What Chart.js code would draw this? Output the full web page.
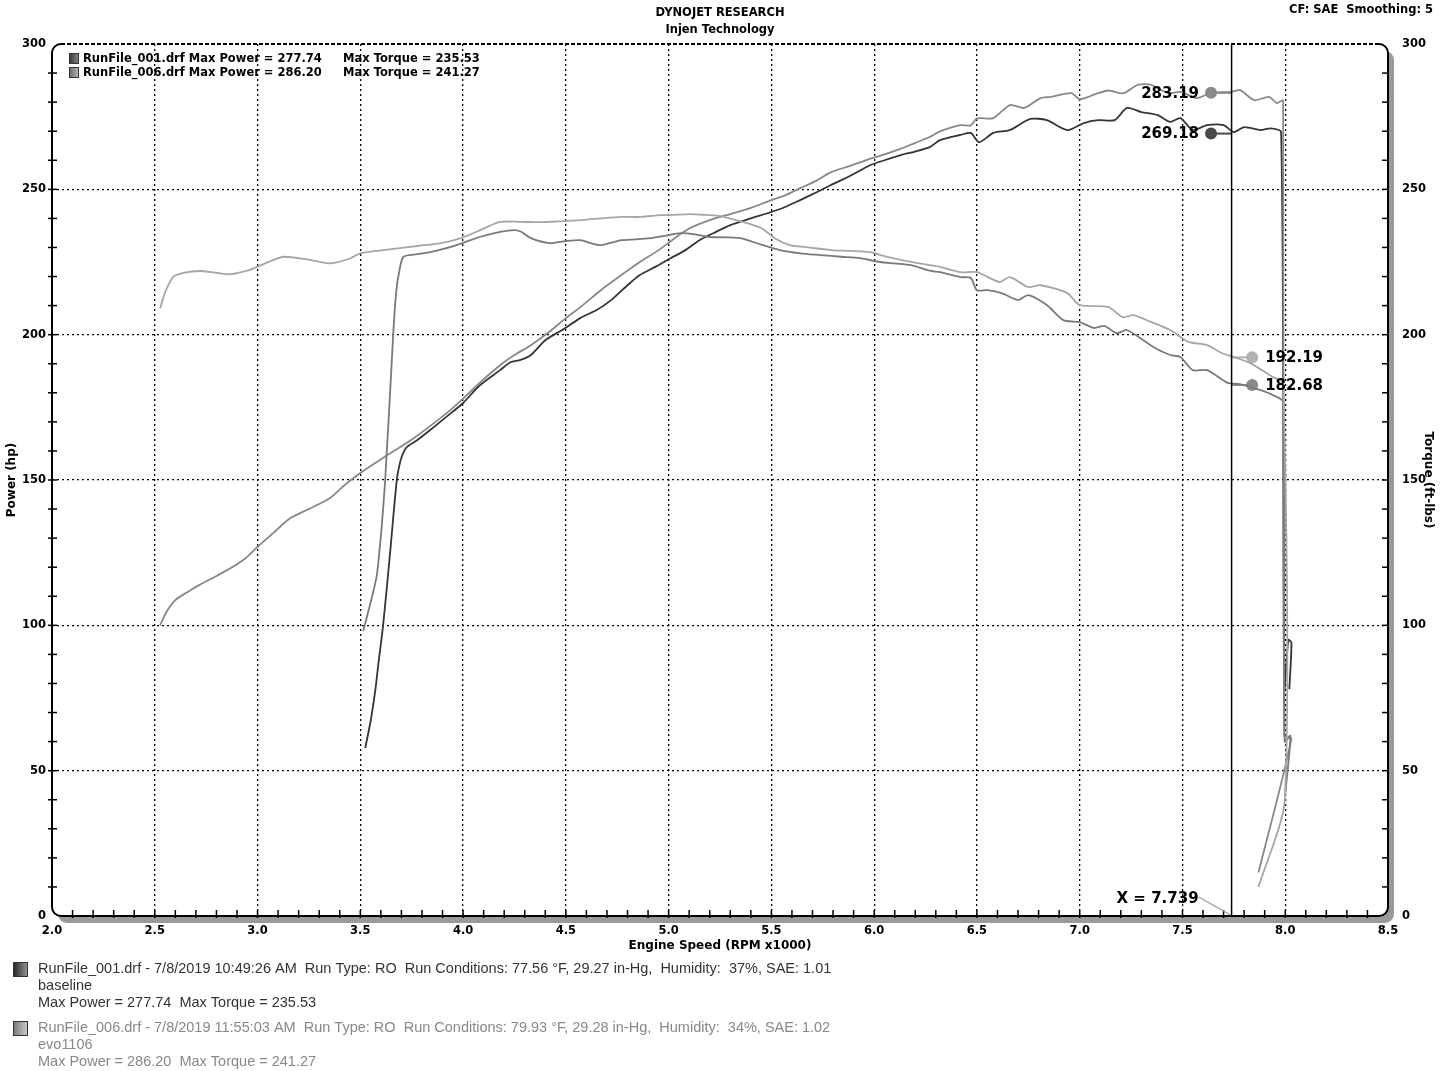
<!DOCTYPE html>
<html><head><meta charset="utf-8">
<script src="https://cdn.jsdelivr.net/npm/chart.js@4/dist/chart.umd.min.js"></script>
<style>html,body{margin:0;padding:0;background:#fff}</style>
</head><body>
<canvas id="c" width="1445" height="1071"></canvas>
<script>
// ---- data (rpm x1000, value) ----
const power001 = [[3.524,57.8],[3.55,67],[3.573,77.7],[3.59,88],[3.611,100],[3.645,125],[3.678,150.3],[3.695,156.5],[3.71,159.5],[3.727,161.4],[3.776,163.7],[3.84,167.2],[3.92,171.8],[4.0,176.5],[4.08,182.5],[4.18,187.8],[4.23,190.5],[4.28,191.3],[4.33,193],[4.4,198.1],[4.48,201.5],[4.57,205.7],[4.65,208.5],[4.72,211.9],[4.8,217],[4.86,220.5],[4.94,223.5],[5.01,226.3],[5.08,229],[5.15,232.5],[5.22,235],[5.3,237.7],[5.4,240],[5.5,242.2],[5.57,244],[5.64,246.3],[5.72,249],[5.79,251.5],[5.88,254.5],[5.98,258.3],[6.05,260],[6.13,261.8],[6.2,263],[6.27,264.5],[6.32,266.9],[6.42,268.7],[6.47,269.4],[6.51,266.2],[6.58,269.4],[6.66,270.4],[6.76,274.2],[6.84,273.8],[6.94,270.4],[7.02,272.8],[7.09,273.8],[7.17,273.8],[7.23,278],[7.3,276.6],[7.38,275.5],[7.44,273.2],[7.49,274.5],[7.55,270.4],[7.62,272.1],[7.7,272.1],[7.75,269.7],[7.8,271.4],[7.88,270.4],[7.93,271],[7.98,269.7],[7.995,78],[8.015,95],[8.03,94],[8.02,78]];
const power006 = [[2.526,100],[2.56,105],[2.6,108.7],[2.66,111.5],[2.72,114],[2.8,117],[2.87,119.7],[2.94,123],[3.0,127],[3.08,132],[3.16,136.9],[3.25,140],[3.353,143.8],[3.42,148],[3.5,152.4],[3.61,157.6],[3.76,164.4],[3.92,173],[4.0,178],[4.08,183.4],[4.18,189.5],[4.25,193],[4.33,196.4],[4.42,201],[4.5,205.7],[4.58,210],[4.67,215.3],[4.76,220],[4.86,225],[4.95,229],[5.03,233.2],[5.1,236.5],[5.2,239.4],[5.3,241.5],[5.4,243.6],[5.5,246.3],[5.57,248],[5.64,250.4],[5.72,253],[5.79,255.9],[5.88,258],[5.98,260.5],[6.05,262],[6.13,264],[6.2,266],[6.27,268],[6.323,270],[6.42,272.1],[6.47,272],[6.5,274.4],[6.58,274.5],[6.66,279],[6.73,278],[6.81,281.4],[6.86,281.8],[6.96,283.1],[7.0,281],[7.09,283.1],[7.14,284],[7.21,283],[7.28,285.9],[7.32,286.2],[7.35,285.9],[7.43,283.1],[7.49,283.5],[7.57,281.4],[7.64,283.2],[7.735,283.5],[7.78,284.1],[7.85,280.7],[7.92,281.8],[7.96,279.7],[7.99,280.5],[7.995,62],[8.03,61],[7.87,15]];
const torque001 = [[3.514,98],[3.553,108.7],[3.582,118],[3.621,150],[3.66,200],[3.675,215],[3.69,222],[3.71,226.8],[3.776,227.7],[3.84,228.4],[3.9,229.4],[4.0,231.6],[4.08,233.6],[4.18,235.4],[4.25,236],[4.28,235.5],[4.33,233.2],[4.42,231.5],[4.5,232.2],[4.57,232.5],[4.62,231.5],[4.67,230.8],[4.77,232.5],[4.84,232.8],[4.91,233.2],[4.98,234],[5.06,234.9],[5.13,234.5],[5.2,233.6],[5.28,233.5],[5.35,233.2],[5.45,231],[5.54,229.1],[5.64,228],[5.74,227.4],[5.84,226.8],[5.93,226.3],[6.03,225],[6.1,224.5],[6.18,223.9],[6.27,222],[6.32,221.5],[6.42,219.8],[6.47,219.5],[6.5,215.3],[6.55,215.3],[6.62,214.3],[6.7,211.9],[6.75,213.6],[6.84,210.2],[6.92,205],[7.0,204.3],[7.07,202.3],[7.12,203],[7.18,200.5],[7.23,201.6],[7.36,195.7],[7.44,193],[7.49,192.3],[7.55,187.8],[7.62,187.8],[7.72,183.4],[7.78,183],[7.88,180.9],[7.94,179.2],[7.99,176.8],[7.997,60],[8.025,62],[8.0,42]];
const torque006 = [[2.526,209],[2.55,214.5],[2.59,219.9],[2.64,221.3],[2.72,221.9],[2.8,221.3],[2.87,220.8],[2.96,222.2],[3.0,223.4],[3.07,225.5],[3.13,226.8],[3.24,225.9],[3.35,224.5],[3.45,226.2],[3.5,228],[3.65,229.4],[3.776,230.5],[3.9,231.6],[4.0,233.5],[4.1,236.5],[4.18,238.8],[4.28,238.8],[4.38,238.7],[4.47,239],[4.57,239.4],[4.67,240],[4.77,240.5],[4.86,240.5],[4.96,241.1],[5.05,241.3],[5.11,241.5],[5.18,241.2],[5.25,240.8],[5.35,239],[5.45,236.7],[5.52,233],[5.59,230.8],[5.68,230],[5.79,229.1],[5.88,228.8],[5.98,228.4],[6.05,227],[6.13,225.7],[6.22,224.5],[6.32,223.3],[6.42,221.5],[6.5,221.5],[6.61,218.1],[6.66,219.8],[6.75,216.4],[6.81,217],[6.94,214.3],[7.0,210.2],[7.14,209.5],[7.21,206],[7.26,206.7],[7.35,204.3],[7.44,201.6],[7.53,197.5],[7.62,196.4],[7.69,193.7],[7.75,192.3],[7.83,190.2],[7.94,185.4],[7.99,183.4],[7.998,40],[7.87,10]];
const cursorX = 7.739;
const cursorPower = [283.19, 269.18];   // 006, 001
const cursorTorque = [192.19, 182.68];  // 006, 001
const xTicks = [2.0,2.5,3.0,3.5,4.0,4.5,5.0,5.5,6.0,6.5,7.0,7.5,8.0,8.5];
const yTicks = [0,50,100,150,200,250,300];
const legendLines = ['RunFile_001.drf Max Power = 277.74','RunFile_006.drf Max Power = 286.20'];
const legendTorque = ['Max Torque = 235.53','Max Torque = 241.27'];
const infoBlocks = [
  ['RunFile_001.drf - 7/8/2019 10:49:26 AM  Run Type: RO  Run Conditions: 77.56 °F, 29.27 in-Hg,  Humidity:  37%, SAE: 1.01','baseline','Max Power = 277.74  Max Torque = 235.53'],
  ['RunFile_006.drf - 7/8/2019 11:55:03 AM  Run Type: RO  Run Conditions: 79.93 °F, 29.28 in-Hg,  Humidity:  34%, SAE: 1.02','evo1106','Max Power = 286.20  Max Torque = 241.27']
];

const C = {p001:'#353535', p006:'#888888', t001:'#7a7a7a', t006:'#a6a6a6'};
const pts = a => a.map(([x,y]) => ({x,y}));
const FONT = '"DejaVu Sans", Verdana, sans-serif';
Chart.defaults.font.family = FONT;

function curve(label, arr, color, axis) {
  return {label, data: pts(arr), showLine:true, borderColor:color, backgroundColor:color,
    borderWidth:1.8, pointRadius:0, tension:0.25, yAxisID:axis};
}
function marker(v, dx, color, axis) {
  return {data:[{x:cursorX,y:v},{x:cursorX+dx,y:v}], showLine:true, borderColor:color,
    backgroundColor:color, borderWidth:2, pointRadius:[0,6], pointBackgroundColor:color,
    pointBorderWidth:0, tension:0, yAxisID:axis};
}

function rr(ctx,x,y,w,h,r){ctx.beginPath();ctx.moveTo(x+r,y);ctx.arcTo(x+w,y,x+w,y+h,r);ctx.arcTo(x+w,y+h,x,y+h,r);ctx.arcTo(x,y+h,x,y,r);ctx.arcTo(x,y,x+w,y,r);ctx.closePath();}
function swatch(ctx,x,y,w,h,c1,c2){const g=ctx.createLinearGradient(x,0,x+w,0);g.addColorStop(0,c1);g.addColorStop(1,c2);ctx.fillStyle=g;ctx.fillRect(x,y,w,h);ctx.strokeStyle='#333';ctx.lineWidth=1;ctx.strokeRect(x+0.5,y+0.5,w-1,h-1);}

const deco = {
  id:'deco',
  beforeDraw(chart){
    const {ctx, chartArea:{left:L,top:T,right:R,bottom:B}} = chart;
    ctx.save();
    rr(ctx,L+6,T+7,R-L,B-T,9); ctx.fillStyle='#9a9a9a'; ctx.fill();
    rr(ctx,L,T,R-L,B-T,9); ctx.fillStyle='#fff'; ctx.fill();
    ctx.restore();
  },
  afterDraw(chart){
    const {ctx, chartArea:{left:L,top:T,right:R,bottom:B}, scales:{x, y}} = chart;
    ctx.save();
    const r = 9;
    ctx.strokeStyle='#000'; ctx.lineWidth=2;
    ctx.beginPath(); ctx.moveTo(L+r,T); ctx.arcTo(L,T,L,T+r,r); ctx.lineTo(L,B-r); ctx.arcTo(L,B,L+r,B,r);
    ctx.lineTo(R-r,B); ctx.arcTo(R,B,R,B-r,r); ctx.lineTo(R,T+r); ctx.arcTo(R,T,R-r,T,r); ctx.stroke();
    ctx.setLineDash([4,2]); ctx.beginPath(); ctx.moveTo(L+r,T); ctx.lineTo(R-r,T); ctx.stroke(); ctx.setLineDash([]);
    ctx.lineWidth=1.5;
    for (let i=1;i<65;i++){ const px = x.getPixelForValue(2+i*0.1); ctx.beginPath(); ctx.moveTo(px,B-6); ctx.lineTo(px,B+2); ctx.stroke(); }
    for (let v=10; v<300; v+=10){ const py=y.getPixelForValue(v);
      ctx.beginPath(); ctx.moveTo(L-4,py); ctx.lineTo(L+5,py); ctx.stroke();
      ctx.beginPath(); ctx.moveTo(R-6,py); ctx.lineTo(R+1,py); ctx.stroke(); }
    const cx = x.getPixelForValue(cursorX);
    ctx.lineWidth=1.5; ctx.beginPath(); ctx.moveTo(cx,T); ctx.lineTo(cx,B); ctx.stroke();
    ctx.strokeStyle='#999'; ctx.lineWidth=1.2; ctx.beginPath(); ctx.moveTo(cx-33,B-19); ctx.lineTo(cx-1,B-1); ctx.stroke();
    ctx.fillStyle='#000'; ctx.font='bold 15px '+FONT; ctx.textBaseline='middle';
    ctx.textAlign='right'; ctx.fillText('X = '+cursorX.toFixed(3), cx-33, B-17);
    const pxL = x.getPixelForValue(cursorX-0.1), pxR = x.getPixelForValue(cursorX+0.1);
    cursorPower.forEach(v=>{ ctx.textAlign='right'; ctx.fillText(v.toFixed(2), pxL-12, y.getPixelForValue(v)+1); });
    cursorTorque.forEach(v=>{ ctx.textAlign='left'; ctx.fillText(v.toFixed(2), pxR+13, y.getPixelForValue(v)+1); });
    ctx.font='bold 11.5px '+FONT; ctx.textAlign='center';
    ctx.fillText('DYNOJET RESEARCH', 720, 13);
    ctx.fillText('Injen Technology', 720, 30);
    ctx.textAlign='right'; ctx.fillText('CF: SAE  Smoothing: 5', 1433, 10);
    const sw = [['#333','#888'],['#666','#bbb']];
    ctx.textAlign='left';
    legendLines.forEach((t,i)=>{ const yy = 59+i*14;
      swatch(ctx,69,yy-6,10,11,sw[i][0],sw[i][1]);
      ctx.fillStyle='#000'; ctx.font='bold 11.5px '+FONT;
      ctx.fillText(t, 83, yy, 240); ctx.fillText(legendTorque[i], 343, yy, 138); });
    const infoCol = ['#333','#888'];
    infoBlocks.forEach((blk,i)=>{ const y0 = 969 + i*59;
      swatch(ctx,13,y0-7,15,15,i?'#777':'#222', i?'#ccc':'#999');
      ctx.fillStyle=infoCol[i]; ctx.font='14.5px "Liberation Sans", Arial, sans-serif'; ctx.textAlign='left';
      ctx.fillText(blk[0], 38, y0, 807); ctx.fillText(blk[1], 38, y0+17); ctx.fillText(blk[2], 38, y0+34, 281); });
    ctx.restore();
  }
};

const gridColor = c => (c.tick && (c.tick.value===c.scale.min || c.tick.value===c.scale.max)) ? 'rgba(0,0,0,0)' : '#000';
const tickFont = {size:11.5, weight:'bold', family:FONT};

new Chart(document.getElementById('c'), {
  type:'scatter',
  data:{datasets:[
    curve('Torque 006', torque006, C.t006, 'y2'),
    curve('Torque 001', torque001, C.t001, 'y2'),
    curve('Power 006', power006, C.p006, 'y'),
    curve('Power 001', power001, C.p001, 'y'),
    marker(cursorPower[0], -0.1, '#8a8a8a', 'y'),
    marker(cursorPower[1], -0.1, '#4a4a4a', 'y'),
    marker(cursorTorque[0], 0.1, '#b2b2b2', 'y2'),
    marker(cursorTorque[1], 0.1, '#8a8a8a', 'y2')
  ]},
  options:{
    responsive:false, animation:false, devicePixelRatio:1,
    layout:{padding:{top:44, bottom:115, left:0, right:0}},
    plugins:{legend:{display:false}, tooltip:{enabled:false}},
    scales:{
      x:{type:'linear', min:2, max:8.5, afterBuildTicks:s=>{s.ticks = xTicks.map(v=>({value:v}));},
        ticks:{font:tickFont, color:'#000', padding:8, callback:v=>v.toFixed(1), maxRotation:0, autoSkip:false},
        grid:{color:gridColor, lineWidth:1.3, drawTicks:false},
        border:{display:false, dash:[2,3]},
        title:{display:true, text:'Engine Speed (RPM x1000)', color:'#000', font:{size:12, weight:'bold', family:FONT}, padding:{top:0,bottom:3}},
        afterFit:s=>{s.height=40;}},
      y:{type:'linear', position:'left', min:0, max:300, afterBuildTicks:s=>{s.ticks = yTicks.map(v=>({value:v}));},
        ticks:{font:tickFont, color:'#000', padding:6},
        grid:{color:gridColor, lineWidth:1.3, drawTicks:false},
        border:{display:false, dash:[2,3]},
        title:{display:true, text:'Power (hp)', color:'#000', font:{size:12, weight:'bold', family:FONT}, padding:{top:5,bottom:0}},
        afterFit:s=>{s.width=52;}},
      y2:{type:'linear', position:'right', min:0, max:300, afterBuildTicks:s=>{s.ticks = yTicks.map(v=>({value:v}));},
        ticks:{font:tickFont, color:'#000', padding:6},
        grid:{display:false, drawOnChartArea:false},
        border:{display:false},
        title:{display:true, text:'Torque (ft-lbs)', color:'#000', font:{size:12, weight:'bold', family:FONT}, padding:{top:10,bottom:0}},
        afterFit:s=>{s.width=57;}}
    }
  },
  plugins:[deco]
});
</script>
</body></html>
